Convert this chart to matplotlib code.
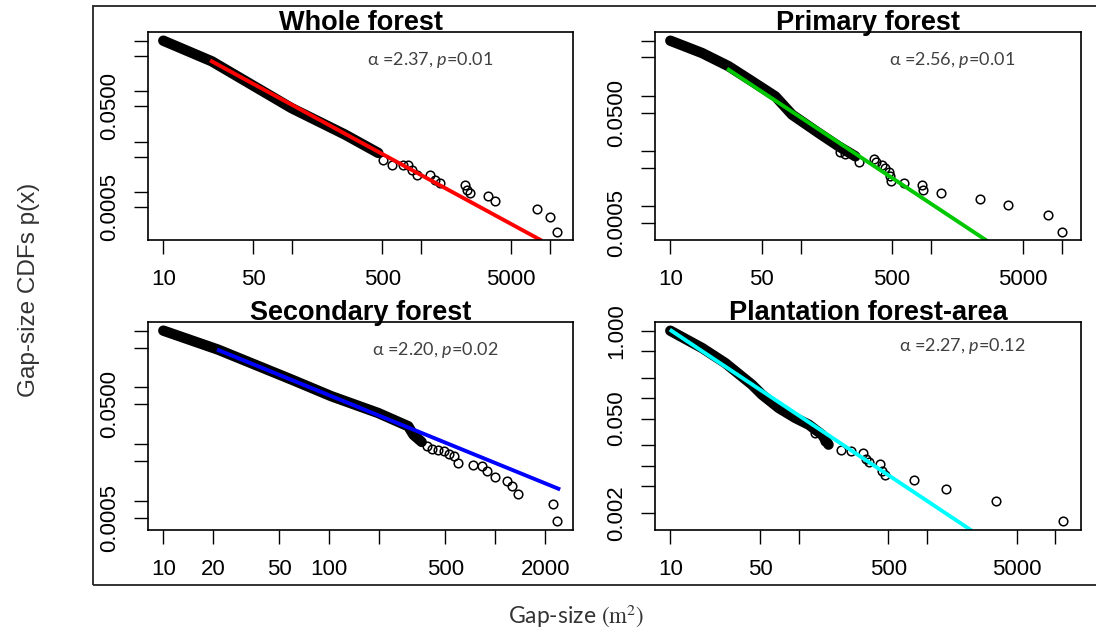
import matplotlib.pyplot as plt
from matplotlib.patches import Rectangle

plt.rcParams['mathtext.fontset'] = 'custom'
plt.rcParams['mathtext.it'] = 'Lato:italic'
plt.rcParams['mathtext.rm'] = 'Lato'

W, H = 1096, 634

# ---- data ----
# dense part of each CDF (drawn as thick black band)
band1_x = [10, 23.8, 99, 258, 467]
band1_y = [1.0, 0.39, 0.046, 0.0137, 0.00593]
pts1_x = [511, 593, 730, 798, 849, 927, 1177, 1286, 1407, 2198, 2268, 2405, 3337, 3758, 7925, 10050, 11460]
pts1_y = [0.00437, 0.00348, 0.00348, 0.00338, 0.00277, 0.0022, 0.0022, 0.00175, 0.00151,
          0.0014, 0.00111, 0.00095, 0.00082, 0.00065, 0.00046, 0.000314, 0.000159]
fit1_x = [23.8, 8410]
fit1_y = [0.39, 1.13e-4]

band2_x = [10, 17.5, 28, 42.3, 63.8, 85.7, 137, 195, 262]
band2_y = [1.0, 0.598, 0.344, 0.184, 0.098, 0.0457, 0.0213, 0.0122, 0.00803]
pts2_x = [198.6, 217, 281, 362, 377, 419, 444, 471, 485, 494, 621, 849, 859, 1181, 2378, 3873, 7834, 10020]
pts2_y = [0.00963, 0.00886, 0.00635, 0.00719, 0.00627, 0.00553, 0.00494, 0.00418, 0.00349,
          0.00291, 0.00264, 0.00246, 0.002, 0.00174, 0.00137, 0.00104, 0.000687, 0.000338]
fit2_x = [28, 2594]
fit2_y = [0.298, 2.48e-4]

band3_x = [10, 21.4, 59.3, 103, 197, 299, 321, 360]
band3_y = [1.0, 0.462, 0.137, 0.0697, 0.0353, 0.0206, 0.0146, 0.0109]
pts3_x = [386, 418, 454, 493, 526, 566, 599, 737, 828, 888, 996, 1171, 1256, 1366, 2234, 2361]
pts3_y = [0.00914, 0.0082, 0.00796, 0.00745, 0.00668, 0.00608, 0.00464, 0.00433, 0.00405,
          0.00331, 0.00259, 0.00221, 0.0018, 0.00132, 0.000877, 0.000446]
fit3_x = [21.6, 2400]
fit3_y = [0.451, 0.00163]

band4_x = [10, 17.7, 26.8, 43.4, 51.8, 70, 94.3, 120, 152, 171]
band4_y = [1.0, 0.554, 0.332, 0.158, 0.113, 0.0716, 0.0509, 0.0405, 0.0288, 0.0205]
pts4_x = [135, 161, 215, 257, 315, 335, 351, 433, 446, 468, 796, 1406, 3451, 11400]
pts4_y = [0.0305, 0.023, 0.0173, 0.0163, 0.0154, 0.0127, 0.0113, 0.0106, 0.00826,
          0.00721, 0.00607, 0.00456, 0.00303, 0.00153]
fit4_x = [10.2, 2173]
fit4_y = [1.0, 0.00113]

titles = ['Whole forest', 'Primary forest', 'Secondary forest', 'Plantation forest-area']
notes = [r'α =2.37, $\mathit{p}$=0.01', r'α =2.56, $\mathit{p}$=0.01',
         r'α =2.20, $\mathit{p}$=0.02', r'α =2.27, $\mathit{p}$=0.12']
fit_colors = ['#ff0000', '#00c800', '#0000ff', '#00ffff']

xt_a = [10, 50, 100, 500, 1000, 5000, 10000]
xl_a = ['10', '50', '', '500', '', '5000', '']
xt_b = [10, 20, 50, 100, 200, 500, 1000, 2000]
xl_b = ['10', '20', '50', '100', '', '500', '', '2000']
yt_a = [1, 0.5, 0.1, 0.05, 0.01, 0.005, 0.001, 0.0005]
yl_a = ['', '', '', '0.0500', '', '', '', '0.0005']
yt_b = [1, 0.5, 0.2, 0.1, 0.05, 0.02, 0.01, 0.005, 0.002]
yl_b = ['1.000', '', '', '', '0.050', '', '', '', '0.002']

# ---- layout (pixels) ----
boxes = [(148.3, 573.3, 32, 239.7), (655.3, 1081, 32, 240),
         (148.3, 573.3, 322, 529.7), (655.3, 1081, 322, 529.7)]
xlims = [(7.65, 15240), (7.67, 14030), (8.12, 2951), (7.64, 15850)]
ylims = [(1.13e-4, 1.487), (2.45e-4, 1.438), (3.09e-4, 1.42), (1.127e-3, 1.346)]
note_pos = [(430, 60), (952, 60), (435, 350), (962, 346)]

data = [(band1_x, band1_y, pts1_x, pts1_y, fit1_x, fit1_y, xt_a, xl_a, yt_a, yl_a),
        (band2_x, band2_y, pts2_x, pts2_y, fit2_x, fit2_y, xt_a, xl_a, yt_a, yl_a),
        (band3_x, band3_y, pts3_x, pts3_y, fit3_x, fit3_y, xt_b, xl_b, yt_a, yl_a),
        (band4_x, band4_y, pts4_x, pts4_y, fit4_x, fit4_y, xt_a, xl_a, yt_b, yl_b)]

fig = plt.figure(figsize=(W / 100, H / 100), dpi=100)

# outer frame
fig.patches.append(Rectangle((93 / W, 1 - 585 / H), 1.0, (585 - 6) / H, transform=fig.transFigure,
                             fill=False, edgecolor='#222222', linewidth=1.3, clip_on=False))

for i, (bx, by, px, py, fx, fy, xt, xl, yt, yl) in enumerate(data):
    l, r, t, b = boxes[i]
    ax = fig.add_axes([l / W, 1 - b / H, (r - l) / W, (b - t) / H])
    ax.set_xscale('log')
    ax.set_yscale('log')
    ax.plot(bx, by, color='black', lw=7.5, solid_capstyle='round', solid_joinstyle='round')
    ax.plot(px, py, 'o', mfc='none', mec='black', ms=6.2, mew=1.1)
    ax.plot(fx, fy, color=fit_colors[i], lw=2.8)
    ax.set_xlim(xlims[i])
    ax.set_ylim(ylims[i])
    ax.minorticks_off()
    ax.set_xticks(xt)
    ax.set_xticklabels(xl, family='Liberation Sans', fontsize=16)
    ax.set_yticks(yt)
    ax.set_yticklabels(yl, family='Liberation Sans', fontsize=16, rotation=90, va='center')
    ax.tick_params(axis='both', direction='out', length=10, width=1.0, color='black')
    ax.tick_params(axis='x', pad=11)
    ax.tick_params(axis='y', pad=10)
    for s in ax.spines.values():
        s.set_linewidth(1.2)
    fig.text((l + r) / 2 / W, 1 - (t - 2) / H, titles[i], ha='center', va='baseline',
             family='Liberation Sans', fontweight='bold', fontsize=19.5)
    nx, ny = note_pos[i]
    fig.text(nx / W, 1 - ny / H, notes[i], ha='center', va='center',
             family=['Lato', 'DejaVu Sans'], fontsize=13, color='#404040')

fig.text(29 / W, 1 - 290 / H, 'Gap-size CDFs p(x)', rotation=90, ha='center', va='center',
         family='Liberation Sans', fontsize=17.5, color='#333333')
fig.text(576 / W, 1 - 616 / H, r'Gap-size $(\mathrm{m}^2)$', ha='center', va='center',
         family='Lato', fontsize=16.5, color='#333333', math_fontfamily='stix')

fig.savefig('out.png', dpi=100)
